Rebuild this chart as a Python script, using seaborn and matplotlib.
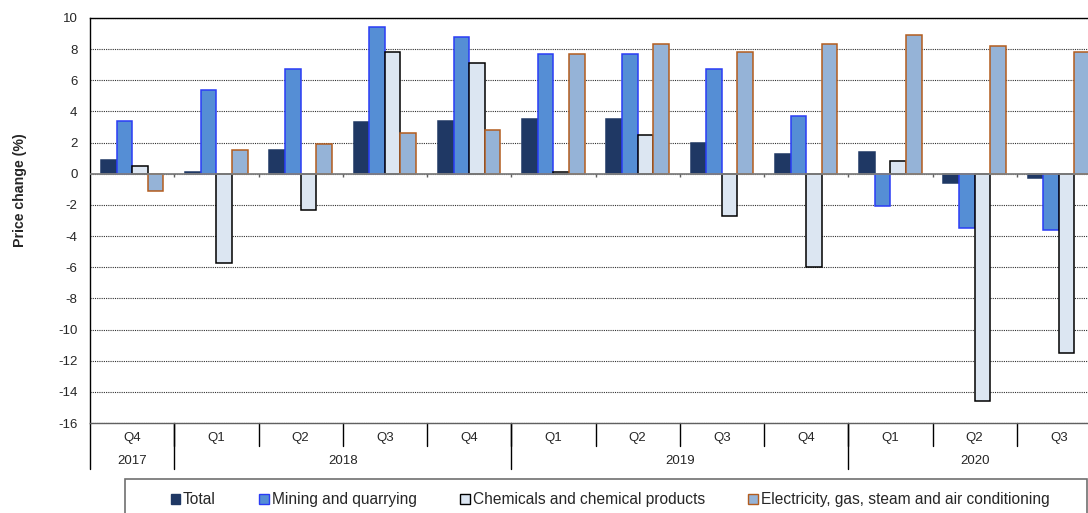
import matplotlib
matplotlib.use("Agg")
import matplotlib.pyplot as plt
from matplotlib.patches import Rectangle, Patch
from matplotlib.lines import Line2D
import seaborn as sns
import pandas as pd

# data (quarterly price change, %)
quarters = ["Q4", "Q1", "Q2", "Q3", "Q4", "Q1", "Q2", "Q3", "Q4", "Q1", "Q2", "Q3"]
years = ["2017", "2018", "2018", "2018", "2018", "2019", "2019", "2019", "2019", "2020", "2020", "2020"]
total = [0.9, 0.1, 1.5, 3.3, 3.4, 3.5, 3.5, 2.0, 1.3, 1.4, -0.6, -0.3]
mining = [3.4, 5.4, 6.7, 9.4, 8.8, 7.7, 7.7, 6.7, 3.7, -2.1, -3.5, -3.6]
chemicals = [0.5, -5.7, -2.3, 7.8, 7.1, 0.1, 2.5, -2.7, -6.0, 0.8, -14.6, -11.5]
electricity = [-1.1, 1.5, 1.9, 2.6, 2.8, 7.7, 8.3, 7.8, 8.3, 8.9, 8.2, 7.8]

series_names = ["Total", "Mining and quarrying", "Chemicals and chemical products",
                "Electricity, gas, steam and air conditioning"]
fills = ["#1f3864", "#558ed5", "#dce6f2", "#95b3d7"]
edges = ["#1f3864", "#2a3cf5", "#000000", "#b35c1e"]

periods = [f"{y} {q}" for y, q in zip(years, quarters)]
df = pd.DataFrame({
    "period": periods * 4,
    "series": sum([[n] * len(periods) for n in series_names], []),
    "value": total + mining + chemicals + electricity,
})

sns.set_style("white")
plt.rcParams["font.family"] = ["Liberation Sans", "DejaVu Sans"]
plt.rcParams["axes.unicode_minus"] = False

fig = plt.figure(figsize=(10.88, 5.13), dpi=100)
W, H = 1088, 513
ax = fig.add_axes([90 / W, 1 - 423 / H, (1101 - 90) / W, (423 - 18) / H])

sns.barplot(data=df, x="period", y="value", hue="series", order=periods,
            hue_order=series_names, palette=fills, width=0.74, gap=0,
            saturation=1, errorbar=None, legend=False, ax=ax, zorder=3)

for cont, ec in zip(ax.containers, edges):
    for bar in cont:
        bar.set_edgecolor(ec)
        bar.set_linewidth(1.1)

ax.set_ylim(-16, 10)
ax.set_xlim(-0.5, len(periods) - 0.5)
ax.set_yticks(range(-16, 11, 2))
ax.yaxis.grid(True, color="#303030", linestyle=(0, (1, 1)), linewidth=0.8)
ax.set_axisbelow(True)
ax.tick_params(axis="y", length=0, pad=9, labelsize=9.5)
ax.set_xticks([])
ax.set_xlabel("")
ax.set_ylabel("Price change (%)", fontsize=10.2, fontweight="bold")
ax.yaxis.set_label_coords(-0.0623, 0.575)

for side in ["top", "left"]:
    ax.spines[side].set_color("black")
    ax.spines[side].set_linewidth(1.0)
ax.spines["bottom"].set_color("#606060")
ax.spines["bottom"].set_linewidth(1.0)
ax.spines["right"].set_visible(False)

# zero line with small ticks at the group boundaries
ax.axhline(0, color="#808080", linewidth=1.3, zorder=4)
boundaries = [i + 0.5 for i in range(len(periods) - 1)]
ax.vlines(boundaries, -0.2, 0, color="#606060", linewidth=1.0, zorder=4)

# two-level category axis below the plot
trans = ax.get_xaxis_transform()
for i, q in enumerate(quarters):
    ax.text(i, -0.037, q, transform=trans, ha="center", va="center", fontsize=9.5)
for b in boundaries:
    ax.add_line(Line2D([b, b], [0, -0.057], transform=trans, color="black",
                       linewidth=1.0, clip_on=False))

year_order = list(dict.fromkeys(years))
for yr in year_order:
    idx = [i for i, y in enumerate(years) if y == yr]
    ax.text((idx[0] + idx[-1]) / 2, -0.094, yr, transform=trans, ha="center",
            va="center", fontsize=9.5)
    x0 = idx[0] - 0.5
    ax.add_line(Line2D([x0, x0], [0, -0.1136], transform=trans, color="black",
                       linewidth=1.0, clip_on=False))

# legend in a box along the bottom edge
fig.patches.append(Rectangle((125 / W, 1 - 530 / H), (1087 - 125) / W, 51 / H,
                             transform=fig.transFigure, facecolor="white",
                             edgecolor="#707070", linewidth=1.2))
handles = [Patch(facecolor=f, edgecolor=e, linewidth=1.0) for f, e in zip(fills, edges)]
fig.legend(handles, series_names, loc="center", bbox_to_anchor=(610 / W, 1 - 500 / H),
           ncol=4, frameon=False, fontsize=11.2, handlelength=0.6, handleheight=0.6,
           handletextpad=0.2, columnspacing=2.8, borderaxespad=0)

fig.savefig("out.png", dpi=100)
